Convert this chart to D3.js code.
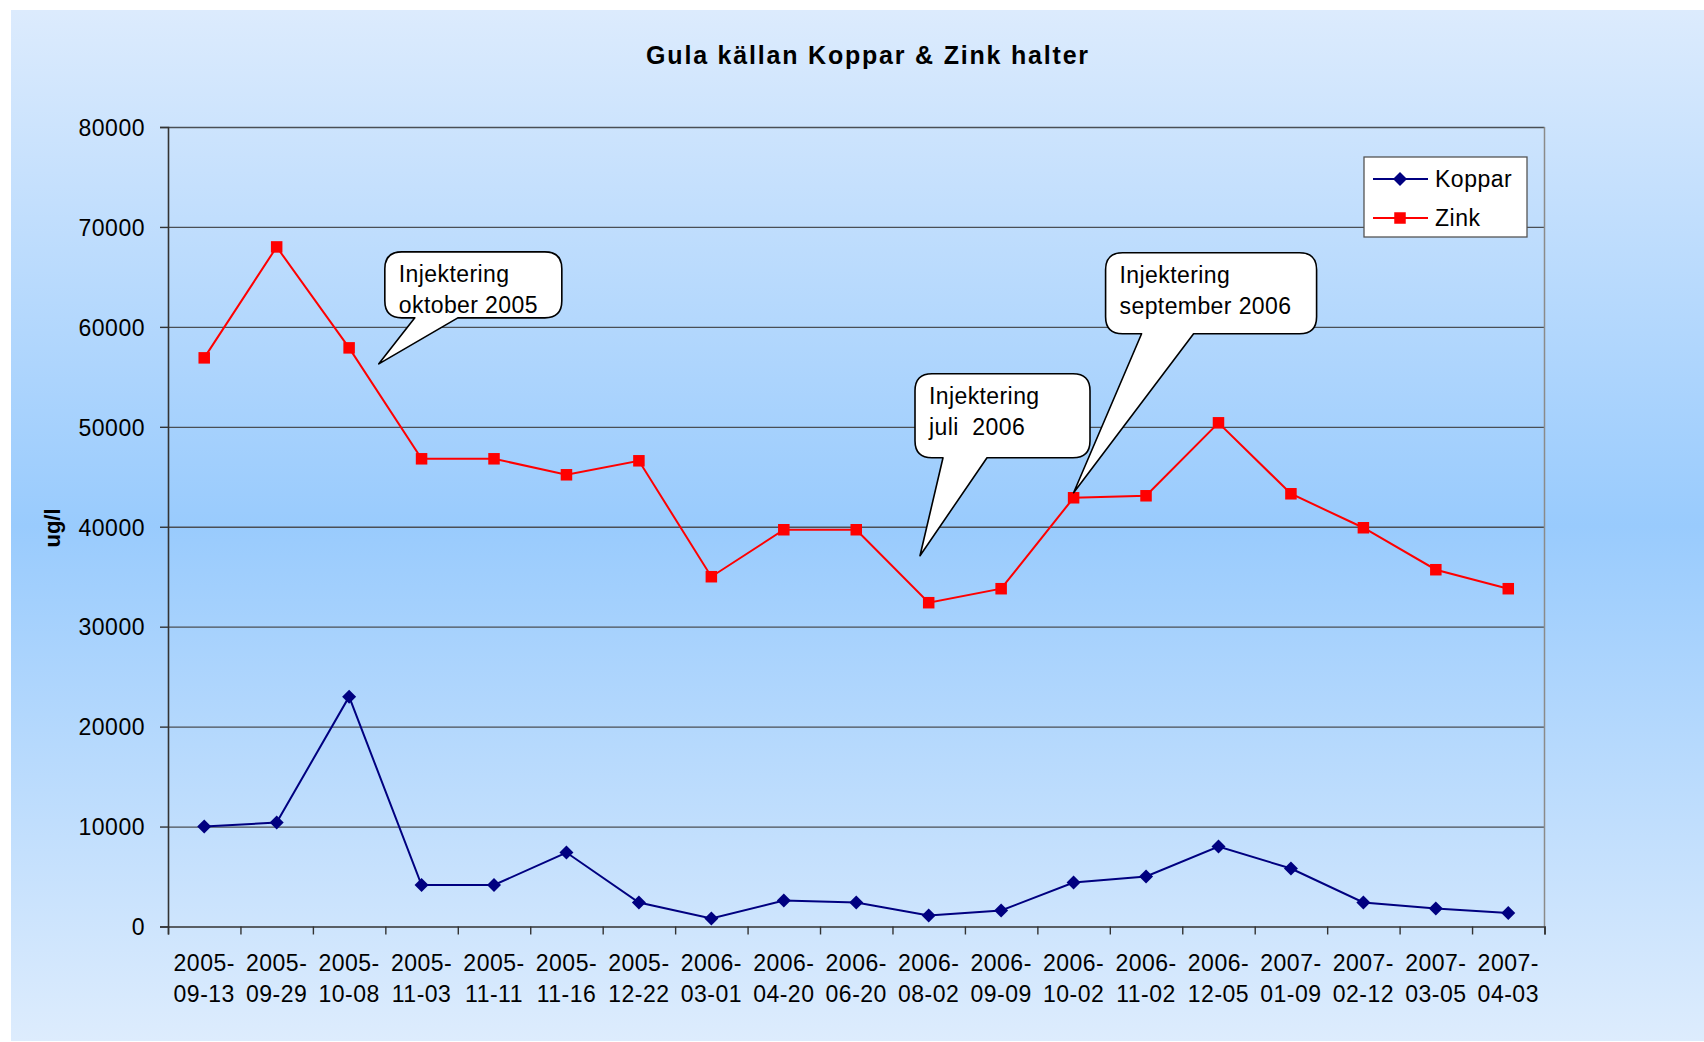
<!DOCTYPE html>
<html>
<head>
<meta charset="utf-8">
<script src="https://cdn.jsdelivr.net/npm/d3@7"></script>
<style>
  body { margin: 0; background: #ffffff; }
  text { font-family: "Liberation Sans", Arial, sans-serif; fill: #000; }
</style>
</head>
<body>
<div id="chart"></div>
<script>
// Sample dates (categories on the x axis)
var dates = ["2005-09-13", "2005-09-29", "2005-10-08", "2005-11-03", "2005-11-11",
  "2005-11-16", "2005-12-22", "2006-03-01", "2006-04-20", "2006-06-20", "2006-08-02",
  "2006-09-09", "2006-10-02", "2006-11-02", "2006-12-05", "2007-01-09", "2007-02-12",
  "2007-03-05", "2007-04-03"];

// Series values (ug/l)
var koppar = [10000, 10400, 23000, 4150, 4150, 7400, 2400, 800, 2600, 2400, 1100,
  1600, 4400, 5000, 8000, 5800, 2400, 1800, 1350];
var zink = [56900, 68000, 57900, 46800, 46800, 45200, 46600, 35000, 39700, 39700, 32400,
  33800, 42900, 43100, 50400, 43300, 39900, 35700, 33800];

// Y axis tick values
var yTicks = [0, 10000, 20000, 30000, 40000, 50000, 60000, 70000, 80000];

// Callout texts and where their pointer ends (date index, value)
var calloutText = [["Injektering", "oktober 2005"], ["Injektering", "juli  2006"], ["Injektering", "september 2006"]];
var calloutTip = [[2.41, 56300], [9.88, 37100], [12, 43400]];

// Define SVG area dimensions
var svgWidth = 1704;
var svgHeight = 1042;

// Chart margins
var chartMargin = { top: 127, right: 159.5, bottom: 115.5, left: 168 };
var chartWidth = svgWidth - chartMargin.left - chartMargin.right;
var chartHeight = svgHeight - chartMargin.top - chartMargin.bottom;

// Box geometry for each callout, relative to the pointer tip
var calloutBox = [
  { dx: 6, dy: -112, w: 177, h: 66, b0: 30, b1: 73 },
  { dx: -5, dy: -182, w: 175, h: 84, b0: 28, b1: 72 },
  { dx: 32, dy: -240, w: 211, h: 81, b0: 36, b1: 88 }
];

var svg = d3.select("#chart")
  .append("svg")
  .attr("width", svgWidth)
  .attr("height", svgHeight);

// Background gradient: light at the edges, saturated blue in the middle
var grad = svg.append("defs").append("linearGradient")
  .attr("id", "bg")
  .attr("x1", 0).attr("y1", 0).attr("x2", 0).attr("y2", 1);
grad.append("stop").attr("offset", "0%").attr("stop-color", "#dcebfd");
grad.append("stop").attr("offset", "50%").attr("stop-color", "#99cbfd");
grad.append("stop").attr("offset", "100%").attr("stop-color", "#ddecfd");

svg.append("rect")
  .attr("x", 11).attr("y", 10)
  .attr("width", svgWidth - 11).attr("height", svgHeight - 11)
  .attr("fill", "url(#bg)");

// Title
svg.append("text")
  .attr("x", 868)
  .attr("y", 64)
  .attr("text-anchor", "middle")
  .style("font-size", "25px")
  .style("font-weight", "bold")
  .style("letter-spacing", "1.8px")
  .text("Gula källan Koppar & Zink halter");

var chartGroup = svg.append("g")
  .attr("transform", `translate(${chartMargin.left}, ${chartMargin.top})`);

// Scales
var xBand = d3.scaleBand()
  .domain(dates)
  .range([0, chartWidth]);

var xEdge = d3.scaleLinear()
  .domain([0, dates.length])
  .range([0, chartWidth]);

var yLinearScale = d3.scaleLinear()
  .domain([0, 80000])
  .range([chartHeight, 0]);

function xCenter(i) {
  return xBand(dates[i]) + xBand.bandwidth() / 2;
}

// Gridlines
chartGroup.append("g")
  .attr("class", "grid")
  .call(d3.axisLeft(yLinearScale).tickValues(yTicks.slice(1)).tickSize(-chartWidth).tickFormat(""))
  .call(g => g.select(".domain").remove())
  .selectAll("line")
  .attr("stroke", "#4a4f55")
  .attr("stroke-width", 1.3);

// Right border of plot area
chartGroup.append("line")
  .attr("x1", chartWidth).attr("x2", chartWidth)
  .attr("y1", 0).attr("y2", chartHeight)
  .attr("stroke", "#8a8a8a")
  .attr("stroke-width", 1.5);

// Y axis
var leftAxis = chartGroup.append("g")
  .call(d3.axisLeft(yLinearScale).tickValues(yTicks).tickSize(8).tickPadding(15).tickFormat(d3.format("d")));
leftAxis.selectAll("text")
  .style("font-size", "23px")
  .style("letter-spacing", "0.5px")
  .attr("dy", "0.36em");

// X axis with ticks on category boundaries
var bottomAxis = chartGroup.append("g")
  .attr("transform", `translate(0, ${chartHeight})`)
  .call(d3.axisBottom(xEdge).tickValues(d3.range(dates.length + 1)).tickSize(8).tickFormat(""));

[leftAxis, bottomAxis].forEach(function(ax) {
  ax.select(".domain").attr("stroke", "#333").attr("stroke-width", 1.6);
  ax.selectAll(".tick line").attr("stroke", "#333").attr("stroke-width", 1.4);
});

// Two-line date labels
var xLabels = chartGroup.append("g")
  .selectAll("text")
  .data(dates)
  .enter()
  .append("text")
  .attr("text-anchor", "middle")
  .style("font-size", "23px")
  .style("letter-spacing", "0.5px");

xLabels.append("tspan")
  .attr("x", (d, i) => xCenter(i))
  .attr("y", chartHeight + 44)
  .text(d => d.slice(0, 5));
xLabels.append("tspan")
  .attr("x", (d, i) => xCenter(i))
  .attr("y", chartHeight + 75.5)
  .text(d => d.slice(5));

// Y axis title
svg.append("text")
  .attr("transform", "rotate(-90)")
  .attr("x", -528)
  .attr("y", 60)
  .attr("text-anchor", "middle")
  .style("font-size", "22px")
  .style("font-weight", "bold")
  .text("ug/l");

// Lines
var lineGen = d3.line()
  .x((d, i) => xCenter(i))
  .y(d => yLinearScale(d));

chartGroup.append("path")
  .datum(koppar)
  .attr("fill", "none")
  .attr("stroke", "#000080")
  .attr("stroke-width", 2)
  .attr("d", lineGen);

chartGroup.append("path")
  .datum(zink)
  .attr("fill", "none")
  .attr("stroke", "#ff0000")
  .attr("stroke-width", 2)
  .attr("d", lineGen);

// Markers
var diamond = d3.symbol().type(d3.symbolDiamond2).size(125);

chartGroup.selectAll(".koppar")
  .data(koppar)
  .enter()
  .append("path")
  .attr("class", "koppar")
  .attr("transform", (d, i) => `translate(${xCenter(i)}, ${yLinearScale(d)})`)
  .attr("d", diamond)
  .attr("fill", "#000080");

chartGroup.selectAll(".zink")
  .data(zink)
  .enter()
  .append("rect")
  .attr("class", "zink")
  .attr("x", (d, i) => xCenter(i) - 5.75)
  .attr("y", d => yLinearScale(d) - 5.75)
  .attr("width", 11.5)
  .attr("height", 11.5)
  .attr("fill", "#ff0000");

// Legend
var legend = svg.append("g").attr("transform", "translate(1364, 157)");
legend.append("rect")
  .attr("width", 163).attr("height", 80)
  .attr("fill", "#fff")
  .attr("stroke", "#555")
  .attr("stroke-width", 1.3);

var legendItems = [{ name: "Koppar", color: "#000080" }, { name: "Zink", color: "#ff0000" }];
legendItems.forEach(function(item, i) {
  var row = legend.append("g").attr("transform", `translate(0, ${22 + i * 39})`);
  row.append("line")
    .attr("x1", 9).attr("x2", 64)
    .attr("stroke", item.color).attr("stroke-width", 2);
  if (i === 0) {
    row.append("path").attr("transform", "translate(36, 0)").attr("d", diamond).attr("fill", item.color);
  } else {
    row.append("rect").attr("x", 30.25).attr("y", -5.75).attr("width", 11.5).attr("height", 11.5).attr("fill", item.color);
  }
  row.append("text")
    .attr("x", 71)
    .attr("dy", "0.36em")
    .style("font-size", "23px")
    .style("letter-spacing", "0.5px")
    .text(item.name);
});

// Callouts
function calloutPath(tx, ty, b) {
  var l = tx + b.dx, t = ty + b.dy, r = l + b.w, btm = t + b.h, rr = 17;
  return `M${l + b.b0},${btm} L${tx},${ty} L${l + b.b1},${btm} H${r - rr} Q${r},${btm} ${r},${btm - rr}` +
    ` V${t + rr} Q${r},${t} ${r - rr},${t} H${l + rr} Q${l},${t} ${l},${t + rr}` +
    ` V${btm - rr} Q${l},${btm} ${l + rr},${btm} Z`;
}

calloutText.forEach(function(lines, i) {
  var tx = chartMargin.left + xEdge(calloutTip[i][0] + 0.5);
  var ty = chartMargin.top + yLinearScale(calloutTip[i][1]);
  var b = calloutBox[i];
  var g = svg.append("g");
  g.append("path")
    .attr("d", calloutPath(tx, ty, b))
    .attr("fill", "#fff")
    .attr("stroke", "#000")
    .attr("stroke-width", 1.6)
    .attr("stroke-linejoin", "round");
  lines.forEach(function(line, j) {
    g.append("text")
      .attr("x", tx + b.dx + 14)
      .attr("y", ty + b.dy + 30 + j * 31)
      .style("font-size", "23px")
      .style("letter-spacing", "0.4px")
      .style("white-space", "pre")
      .text(line);
  });
});
</script>
</body>
</html>
